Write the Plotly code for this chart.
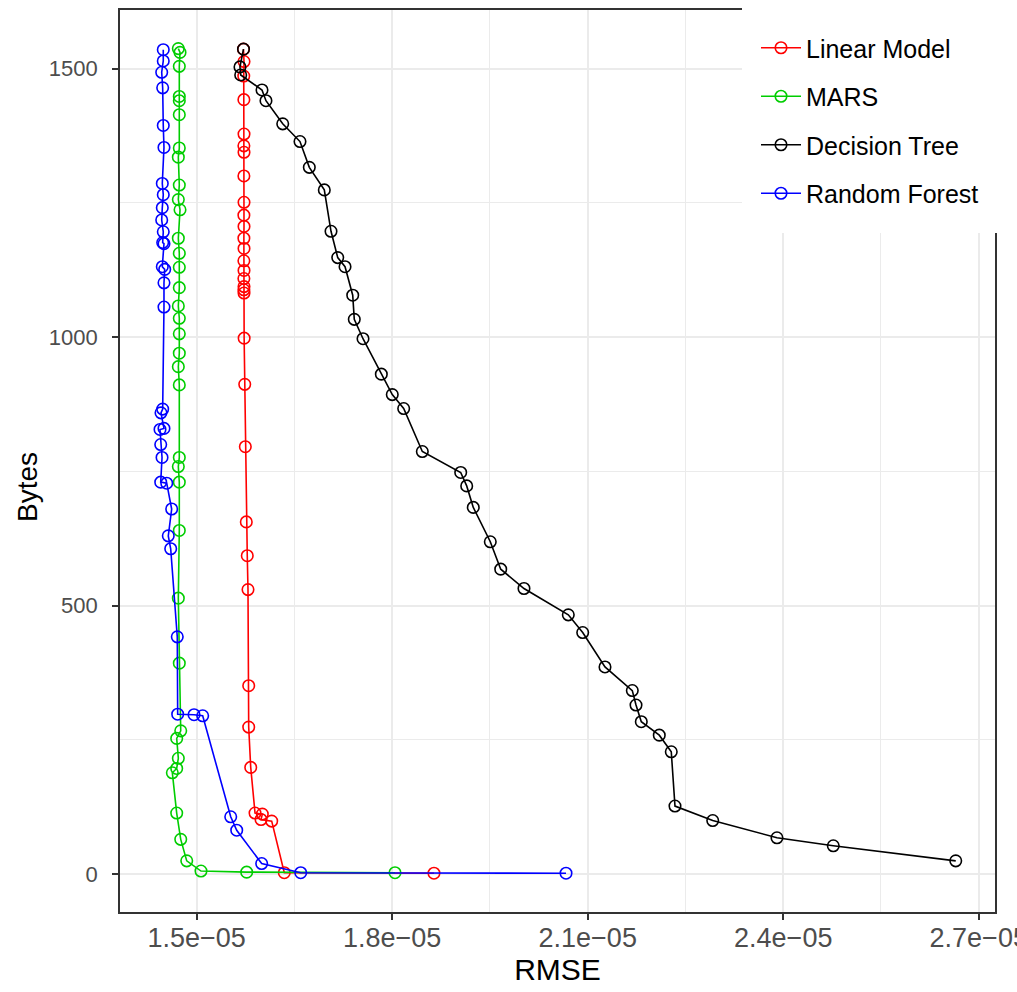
import plotly.graph_objects as go

# ---------------- data ----------------
lm_rmse = [1.5718e-05, 1.5726e-05, 1.5722e-05, 1.5724e-05, 1.5726e-05, 1.5724e-05, 1.5726e-05,
           1.5724e-05, 1.5726e-05, 1.5724e-05, 1.5726e-05, 1.5724e-05, 1.5726e-05, 1.5724e-05,
           1.5726e-05, 1.5724e-05, 1.5726e-05, 1.5724e-05, 1.5726e-05, 1.5728e-05, 1.5737e-05,
           1.5746e-05, 1.5761e-05, 1.5776e-05, 1.5787e-05, 1.5798e-05, 1.5798e-05, 1.5829e-05,
           1.5895e-05, 1.6007e-05, 1.5987e-05, 1.6151e-05, 1.6344e-05, 1.8641e-05]
lm_bytes = [1536, 1513, 1486, 1442, 1378, 1356, 1344, 1300, 1251, 1227, 1206, 1184, 1165, 1142,
            1124, 1109, 1094, 1088, 1082, 998, 912, 796, 656, 593, 530, 351, 274, 199,
            114, 112, 102, 99, 3, 2]

mars_rmse = [1.4718e-05, 1.4744e-05, 1.4733e-05, 1.4733e-05, 1.4733e-05, 1.4733e-05, 1.4733e-05,
             1.4718e-05, 1.4733e-05, 1.4718e-05, 1.4744e-05, 1.4718e-05, 1.4733e-05, 1.4733e-05,
             1.4733e-05, 1.4718e-05, 1.4733e-05, 1.4733e-05, 1.4733e-05, 1.4718e-05, 1.4733e-05,
             1.4733e-05, 1.4718e-05, 1.4733e-05, 1.4733e-05, 1.4718e-05, 1.4733e-05, 1.4755e-05,
             1.4693e-05, 1.4718e-05, 1.4693e-05, 1.4626e-05, 1.4693e-05, 1.4755e-05, 1.4847e-05,
             1.5066e-05, 1.5767e-05, 1.8043e-05]
mars_bytes = [1537, 1530, 1504, 1448, 1440, 1414, 1352, 1335, 1283, 1256, 1237, 1184, 1156, 1130,
              1092, 1058, 1035, 1006, 970, 945, 911, 776, 759, 730, 640, 514, 393, 267,
              253, 216, 197, 189, 114, 65, 25, 6, 4, 3]

dt_rmse = [1.5718e-05, 1.5664e-05, 1.5675e-05, 1.6002e-05, 1.6063e-05, 1.6320e-05, 1.6585e-05,
           1.6728e-05, 1.6958e-05, 1.7061e-05, 1.7164e-05, 1.7276e-05, 1.7394e-05, 1.7418e-05,
           1.7552e-05, 1.7833e-05, 1.8001e-05, 1.8176e-05, 1.8462e-05, 1.9051e-05, 1.9143e-05,
           1.9244e-05, 1.9505e-05, 1.9665e-05, 2.0022e-05, 2.0702e-05, 2.0923e-05, 2.1265e-05,
           2.1684e-05, 2.1741e-05, 2.1822e-05, 2.2098e-05, 2.2282e-05, 2.2339e-05, 2.2918e-05,
           2.3904e-05, 2.4768e-05, 2.6647e-05]
dt_bytes = [1536, 1503, 1488, 1460, 1440, 1397, 1364, 1316, 1274, 1197, 1148, 1131, 1078, 1033,
            997, 931, 893, 867, 787, 748, 723, 683, 619, 568, 532, 483, 450, 386,
            342, 315, 284, 259, 228, 127, 100, 68, 53, 25]

rf_rmse = [1.4487e-05, 1.4487e-05, 1.4463e-05, 1.4478e-05, 1.4487e-05, 1.4498e-05, 1.4472e-05,
           1.4487e-05, 1.4472e-05, 1.4463e-05, 1.4487e-05, 1.4478e-05, 1.4498e-05, 1.4472e-05,
           1.4509e-05, 1.4498e-05, 1.4498e-05, 1.4478e-05, 1.4452e-05, 1.4498e-05, 1.4437e-05,
           1.4448e-05, 1.4468e-05, 1.4448e-05, 1.4540e-05, 1.4616e-05, 1.4564e-05, 1.4601e-05,
           1.4702e-05, 1.4708e-05, 1.4959e-05, 1.5092e-05, 1.5522e-05, 1.5614e-05, 1.5997e-05,
           1.6596e-05, 2.0667e-05]
rf_bytes = [1535, 1514, 1493, 1464, 1394, 1353, 1286, 1265, 1241, 1218, 1196, 1176, 1174, 1131,
            1126, 1101, 1056, 866, 859, 830, 828, 800, 776, 730, 728, 680, 630, 606,
            442, 298, 297, 295, 107, 82, 20, 3, 2]

series_names = ["Linear Model", "MARS", "Decision Tree", "Random Forest"]
series_colors = ["#FF0000", "#00CD00", "#000000", "#0000FF"]

x_tickvals = [1.5e-05, 1.8e-05, 2.1e-05, 2.4e-05, 2.7e-05]
x_ticktext = ["1.5e\u221205", "1.8e\u221205", "2.1e\u221205", "2.4e\u221205", "2.7e\u221205"]
x_minor = [1.65e-05, 1.95e-05, 2.25e-05, 2.55e-05]
y_tickvals = [0, 500, 1000, 1500]
y_minor = [250, 750, 1250]

# ---------------- figure ----------------
FONT = "Liberation Sans, Arial, Helvetica, sans-serif"
fig = go.Figure()
all_x = [lm_rmse, mars_rmse, dt_rmse, rf_rmse]
all_y = [lm_bytes, mars_bytes, dt_bytes, rf_bytes]
for i, (nm, col) in enumerate(zip(series_names, series_colors)):
    fig.add_trace(go.Scatter(
        x=all_x[i], y=all_y[i], name=nm, mode="lines+markers",
        legendgroup=nm,
        line=dict(color=col, width=1.6),
        marker=dict(symbol="circle-open", size=11.5, color=col, line=dict(width=1.6, color=col)),
    ))

axis_common = dict(
    showline=True, mirror=True, linecolor="#333333", linewidth=1.6,
    ticks="outside", ticklen=6, tickwidth=1.6, tickcolor="#333333",
    showgrid=True, gridcolor="#EBEBEB", gridwidth=2, zeroline=False,
    automargin=False, ticklabeloverflow="allow",
)

fig.update_xaxes(
    range=[1.38231e-05, 2.72495e-05], tickmode="array",
    tickvals=x_tickvals, ticktext=x_ticktext,
    tickfont=dict(family=FONT, size=27, color="#4D4D4D"),
    ticklabelstandoff=-5,
    minor=dict(tickmode="array", tickvals=x_minor, showgrid=True, gridcolor="#EBEBEB", gridwidth=1, ticks=""),
    title=dict(text="RMSE", font=dict(family=FONT, size=30, color="#000000"), standoff=2),
    **axis_common,
)
fig.update_yaxes(
    range=[-70.2, 1608.9], tickmode="array",
    tickvals=y_tickvals, ticktext=[str(v) for v in y_tickvals],
    tickfont=dict(family=FONT, size=22, color="#4D4D4D"),
    ticklabelstandoff=10,
    minor=dict(tickmode="array", tickvals=y_minor, showgrid=True, gridcolor="#EBEBEB", gridwidth=1, ticks=""),
    **axis_common,
)

# y-axis title placed as in the reference
fig.add_annotation(text="Bytes", textangle=-90, xref="paper", yref="paper",
                   x=(27 - 120) / 875, y=(912 - 487) / 902, xanchor="center", yanchor="middle",
                   showarrow=False, font=dict(family=FONT, size=28, color="#000000"))

# white box behind the legend, covering the panel corner (as in the reference)
fig.add_shape(type="rect", xref="paper", yref="paper",
              x0=(742 - 120) / 875, x1=1.05, y0=(912 - 233) / 902, y1=1.02,
              fillcolor="white", line=dict(width=0), layer="above")

fig.update_layout(
    width=1017, height=992,
    margin=dict(l=120, r=22, t=10, b=80),
    paper_bgcolor="white", plot_bgcolor="white",
    font=dict(family=FONT, color="#000000"),
    showlegend=True,
    legend=dict(
        x=(756 - 120) / 875, xanchor="left", y=(912 - 25) / 902, yanchor="top",
        bgcolor="rgba(255,255,255,0)", borderwidth=0,
        font=dict(family=FONT, size=25, color="#000000"),
        itemwidth=40, tracegroupgap=13, traceorder="grouped",
    ),
)

fig.write_html("out.html")
